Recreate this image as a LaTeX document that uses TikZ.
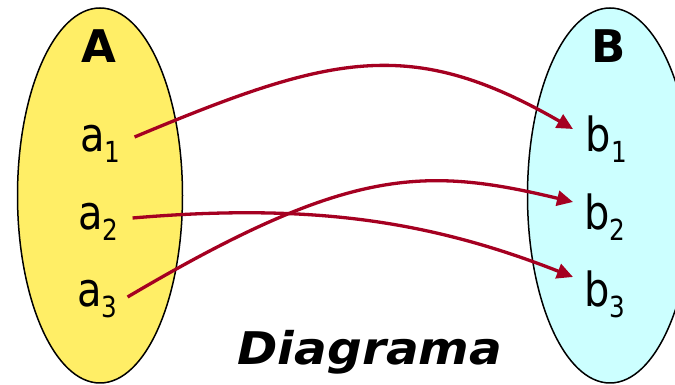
\documentclass[tikz,border=0pt]{standalone}
\usepackage{fontspec}
\usetikzlibrary{arrows.meta,shapes.geometric}
\newfontfamily\lblfont{DejaVu Sans}[FakeStretch=0.85]
\newfontfamily\setfont{DejaVu Sans}
\newfontfamily\titlefont{DejaVu Sans}[FakeStretch=1.08]
\definecolor{setA}{RGB}{255,238,102}
\definecolor{setB}{RGB}{204,255,255}
\definecolor{arrowred}{RGB}{165,0,33}
\newcommand{\elem}[2]{#1\raisebox{-11pt}{\fontsize{29}{29}\selectfont #2}}
\tikzset{
  setbody/.style={draw=black, line width=1.5pt, ellipse, inner sep=0pt, minimum width=165pt, minimum height=375pt},
  elemnode/.style={inner sep=0pt, anchor=base west, font=\lblfont\fontsize{47}{47}\selectfont},
  anode/.style={elemnode, text height=27pt, text depth=0pt},
  bnode/.style={elemnode, text height=35pt, text depth=0pt},
  setname/.style={inner sep=0pt, anchor=base, font=\setfont\bfseries\fontsize{45}{45}\selectfont},
  maparrow/.style={draw=arrowred, line width=3.3pt, -{Triangle[length=16pt,width=15pt]}}
}
\begin{document}
\begin{tikzpicture}[x=1pt,y=1pt]
\useasboundingbox (0,0) rectangle (675,385);
\fill[white] (0,0) rectangle (675,385);
\node[setbody, fill=setA] (SA) at (100,189.5) {};
\node[setbody, fill=setB] (SB) at (610,189.5) {};
\node[setname] (A) at (98.5,322) {A};
\node[setname] (B) at (609,322) {B};
\node[anode] (a1) at (80,233) {\elem{a}{1}};
\node[anode] (a2) at (78,155) {\elem{a}{2}};
\node[anode] (a3) at (77,78) {\elem{a}{3}};
\node[bnode] (b1) at (585.5,233) {\elem{b}{1}};
\node[bnode] (b2) at (584,155) {\elem{b}{2}};
\node[bnode] (b3) at (584,78) {\elem{b}{3}};
\node[inner sep=0pt, anchor=base, font=\titlefont\bfseries\itshape\fontsize{45}{45}\selectfont] (title) at (370,20) {Diagrama};
\draw[maparrow] ([xshift=14pt,yshift=1.5pt]a1.east) .. controls +(196,82) and +(-163,94) .. ([xshift=-12.5pt,yshift=5.5pt]b1.west);
\draw[maparrow] ([xshift=14pt,yshift=-1.5pt]a2.east) .. controls +(176,15) and +(-145,57) .. ([xshift=-11pt,yshift=12.5pt]b3.west);
\draw[maparrow] ([xshift=10pt,yshift=-3.5pt]a3.east) .. controls +(220,130) and +(-150,36) .. ([xshift=-11pt,yshift=10.5pt]b2.west);
\end{tikzpicture}
\end{document}
